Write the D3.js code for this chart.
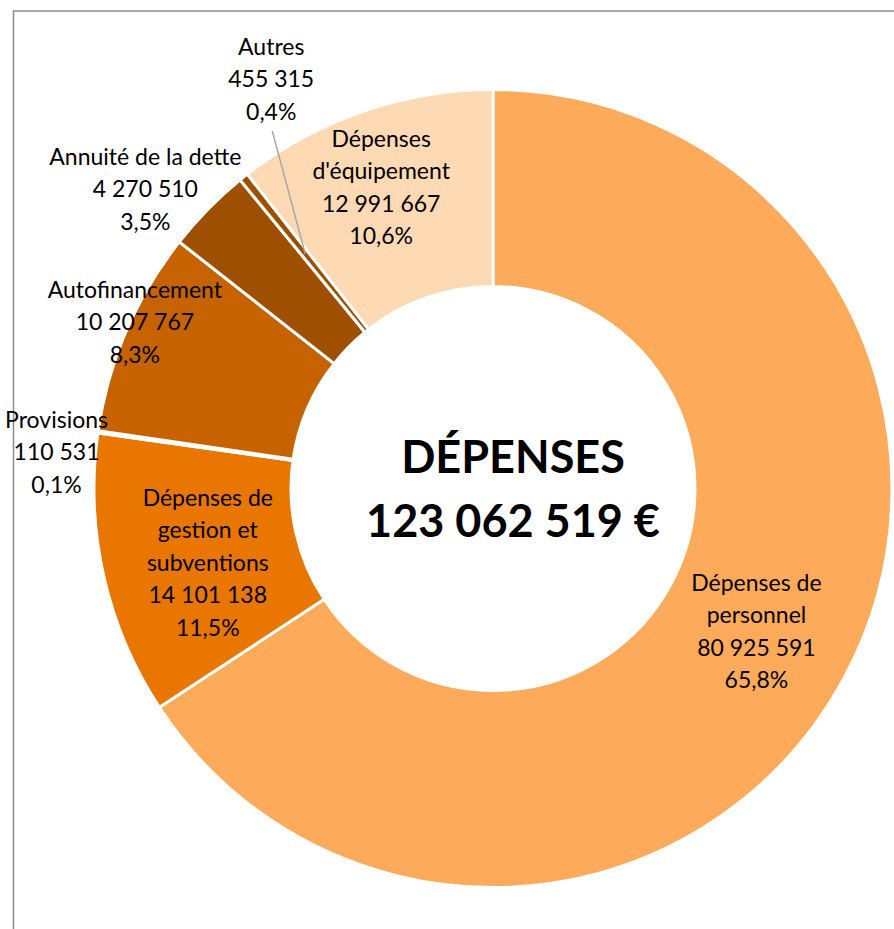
<!DOCTYPE html>
<html>
<head>
<meta charset="utf-8">
<script src="https://cdn.jsdelivr.net/npm/d3@7"></script>
<style>
    html, body { margin: 0; padding: 0; background: #fff; }
    svg { display: block; }
</style>
</head>
<body>
<script>

var categories = ["Dépenses de personnel", "Dépenses de gestion et subventions", "Provisions",
    "Autofinancement", "Annuité de la dette", "Autres", "Dépenses d'équipement"];
var values = [80925591, 14101138, 110531, 10207767, 4270510, 455315, 12991667];
var colors = ["#FDAB5A", "#E97600", "#F4B183", "#C66200", "#9E5000", "#9E5000", "#FDD9B4"];
var labelLines = [["Dépenses de", "personnel"], ["Dépenses de", "gestion et", "subventions"], ["Provisions"],
    ["Autofinancement"], ["Annuité de la dette"], ["Autres"], ["Dépenses", "d'équipement"]];
var title = "DÉPENSES";

// label nudges from the slice centroid
var labelNudge = [[-1, 0], [8, 8], [-139, 6], [-82, -48], [-133, -89], [-34, -175], [-14, -17]];

var W = 894, H = 929,
    cx = 493, cy = 488.5,
    rOuter = 399, rInner = 202;

var fr = d3.formatLocale({ decimal: ",", thousands: "\u00a0", grouping: [3], currency: ["", "\u00a0€"] });
var fmtNum = fr.format(",d"),
    fmtPct = fr.format(".1%");

var total = d3.sum(values);

var svg = d3.select("body").append("svg")
    .attr("width", W)
    .attr("height", H);

svg.append("rect")
    .attr("x", 13.5)
    .attr("y", 11)
    .attr("width", W + 20)
    .attr("height", H + 20)
    .attr("fill", "none")
    .attr("stroke", "#8C8C8C")
    .attr("stroke-width", 1.5);

var pie = d3.pie().sort(null).value(function(d) { return d; });
var arcs = pie(values);

var arc = d3.arc().innerRadius(rInner).outerRadius(rOuter);

var g = svg.append("g")
    .attr("transform", "translate(" + cx + "," + cy + ")");

g.selectAll("path.slice")
    .data(arcs)
  .enter().append("path")
    .attr("class", "slice")
    .attr("d", arc)
    .attr("fill", function(d, i) { return colors[i]; })
    .attr("stroke", "#fff")
    .attr("stroke-width", 3)
    .attr("stroke-linejoin", "miter");

var fs = 23, lh = 32.5;

// leader line for "Autres"
var ai = categories.indexOf("Autres");
var ac = arc.centroid(arcs[ai]);
g.append("line")
    .attr("x1", ac[0] + labelNudge[ai][0] + 1)
    .attr("y1", ac[1] + labelNudge[ai][1] + 52)
    .attr("x2", ac[0])
    .attr("y2", ac[1])
    .attr("stroke", "#A6A6A6")
    .attr("stroke-width", 1.5);

var label = g.selectAll("g.label")
    .data(arcs)
  .enter().append("g")
    .attr("class", "label")
    .attr("transform", function(d, i) {
        var c = arc.centroid(d);
        return "translate(" + (c[0] + labelNudge[i][0]) + "," + (c[1] + labelNudge[i][1]) + ")";
    });

label.each(function(d, i) {
    var lines = labelLines[i].concat([fmtNum(values[i]), fmtPct(values[i] / total)]);
    var y0 = -(lines.length - 1) * lh / 2;
    d3.select(this).selectAll("text")
        .data(lines)
      .enter().append("text")
        .attr("x", 0)
        .attr("y", function(t, j) { return y0 + j * lh + fs * 0.36; })
        .attr("text-anchor", "middle")
        .attr("font-family", "Lato, 'Open Sans', sans-serif")
        .attr("font-size", fs)
        .attr("fill", "#000")
        .text(function(t) { return t; });
});

var center = g.append("g")
    .attr("transform", "translate(20,0)");

center.selectAll("text")
    .data([title, fr.format("$,d")(total)])
  .enter().append("text")
    .attr("x", 0)
    .attr("y", function(t, j) { return -32 + j * 64 + 16; })
    .attr("text-anchor", "middle")
    .attr("font-family", "Lato, 'Open Sans', sans-serif")
    .attr("font-weight", "bold")
    .attr("font-size", 45)
    .attr("fill", "#000")
    .text(function(t) { return t; });

</script>
</body>
</html>
